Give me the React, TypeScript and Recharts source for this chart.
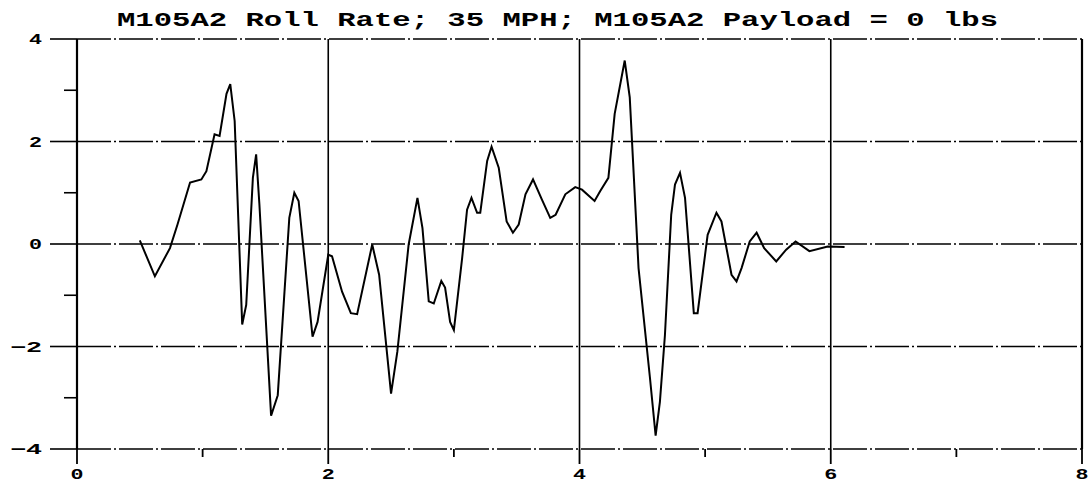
import { LineChart, Line, XAxis, YAxis, CartesianGrid } from "recharts";

const title = "M105A2 Roll Rate; 35 MPH; M105A2 Payload = 0 lbs";

// time (x) and roll rate (y)
const timeValues = [
  0.5, 0.62, 0.74, 0.8, 0.9, 0.99, 1.03, 1.095, 1.135, 1.19, 1.22, 1.255,
  1.315, 1.347, 1.4, 1.426, 1.452, 1.545, 1.598, 1.69, 1.73, 1.764, 1.875,
  1.915, 2.0, 2.03, 2.11, 2.18, 2.23, 2.35, 2.405, 2.5, 2.55, 2.64, 2.71, 2.75,
  2.8, 2.84, 2.9, 2.93, 2.97, 3.0, 3.066, 3.105, 3.14, 3.185, 3.21, 3.265, 3.3,
  3.357, 3.42, 3.47, 3.516, 3.57, 3.63, 3.7, 3.767, 3.81, 3.887, 3.966, 4.02,
  4.12, 4.164, 4.23, 4.28, 4.36, 4.4, 4.47, 4.56, 4.606, 4.64, 4.68, 4.73, 4.76,
  4.8, 4.84, 4.91, 4.94, 5.02, 5.09, 5.13, 5.21, 5.25, 5.29, 5.355, 5.41, 5.47,
  5.566, 5.645, 5.72, 5.83, 5.976, 6.11,
];
const rollRate = [
  0.07, -0.63, -0.08, 0.38, 1.2, 1.26, 1.42, 2.14, 2.11, 2.93, 3.12, 2.4,
  -1.57, -1.19, 1.29, 1.75, 0.77, -3.35, -2.95, 0.51, 1.0, 0.84, -1.81,
  -1.52, -0.21, -0.24, -0.93, -1.35, -1.37, -0.01, -0.6, -2.92, -2.1, -0.01, 0.9, 0.31,
  -1.12, -1.16, -0.72, -0.85, -1.52, -1.68, -0.27, 0.67, 0.9, 0.61, 0.61, 1.62, 1.9,
  1.49, 0.44, 0.22, 0.38, 0.97, 1.26, 0.87, 0.51, 0.57, 0.97, 1.11, 1.06,
  0.84, 1.03, 1.29, 2.54, 3.58, 2.86, -0.47, -2.59, -3.74, -3.08, -1.78, 0.57, 1.16,
  1.39, 0.9, -1.35, -1.35, 0.18, 0.61, 0.44, -0.6, -0.73, -0.47, 0.05, 0.22, -0.08,
  -0.34, -0.11, 0.05, -0.14, -0.05, -0.06,
];

const xTicks = [0, 1, 2, 3, 4, 5, 6, 7, 8];
const yTicks = [-4, -3, -2, -1, 0, 1, 2, 3, 4];
const xMajor = [0, 2, 4, 6, 8];
const yMajor = [-4, -2, 0, 2, 4];

const data = timeValues.map((t, i) => ({ t, r: rollRate[i] }));

const FONT = "'Liberation Mono', 'Courier New', monospace";
const frame = { stroke: "#000", strokeWidth: 2.2 };

// labels are drawn wide and squat like the scanned original
const labelText = (v: number) => (v < 0 ? "\u2212" + Math.abs(v) : String(v));

const XTick = (props: any) => {
  const { x, y, payload } = props;
  const v = payload.value;
  const major = v % 2 === 0;
  return (
    <g>
      <line x1={x} x2={x} y1={y} y2={y + (major ? 15 : 8)} stroke="#000" strokeWidth={1.8} />
      {major && (
        <text x={x} y={y + 30} textAnchor="middle" fontFamily={FONT} fontWeight="bold" fontSize={15}
          textLength={13} lengthAdjust="spacingAndGlyphs" fill="#000">
          {labelText(v)}
        </text>
      )}
    </g>
  );
};

const YTick = (props: any) => {
  const { x, y, payload } = props;
  const v = payload.value;
  const major = v % 2 === 0;
  const txt = labelText(v);
  return (
    <g>
      <line x1={x - (major ? 27 : 13)} x2={x} y1={y} y2={y} stroke="#000" strokeWidth={1.6} />
      {major && (
        <text x={x - 35} y={y + 5} textAnchor="end" fontFamily={FONT} fontWeight="bold" fontSize={15}
          textLength={txt.length > 1 ? 32 : 13} lengthAdjust="spacingAndGlyphs" fill="#000">
          {txt}
        </text>
      )}
    </g>
  );
};

export default function App() {
  return (
    <div style={{ position: "absolute", left: 0, top: 0, width: 1092, height: 483, background: "#fff" }}>
      <LineChart width={1092} height={483} data={data} margin={{ top: 39, right: 0, bottom: 0, left: 0 }}>
        <CartesianGrid horizontal={false} verticalValues={xMajor} stroke="#000" strokeWidth={1.6} />
        <CartesianGrid vertical={false} horizontalValues={yMajor} stroke="#000" strokeWidth={1.6}
          strokeDasharray="34 3 2 3" />
        <XAxis dataKey="t" type="number" domain={[0, 8]} ticks={xTicks} interval={0}
          axisLine={false} tickLine={false} tickSize={0} tickMargin={0} height={34} tick={<XTick />} />
        <YAxis type="number" domain={[-4, 4]} ticks={yTicks} interval={0}
          axisLine={frame} tickLine={false} tickSize={0} tickMargin={0} width={77} tick={<YTick />} />
        <YAxis yAxisId="right" orientation="right" type="number" domain={[-4, 4]} width={10}
          axisLine={frame} tickLine={false} tick={false} />
        <Line type="linear" dataKey="r" stroke="#000" strokeWidth={2} dot={false} isAnimationActive={false} />
      </LineChart>
      <svg width={1092} height={34} style={{ position: "absolute", left: 0, top: 0 }}>
        <text x={117} y={26} fontFamily={FONT} fontWeight="bold" fontSize={20}
          textLength={881} lengthAdjust="spacingAndGlyphs" fill="#000">
          {title}
        </text>
      </svg>
    </div>
  );
}
